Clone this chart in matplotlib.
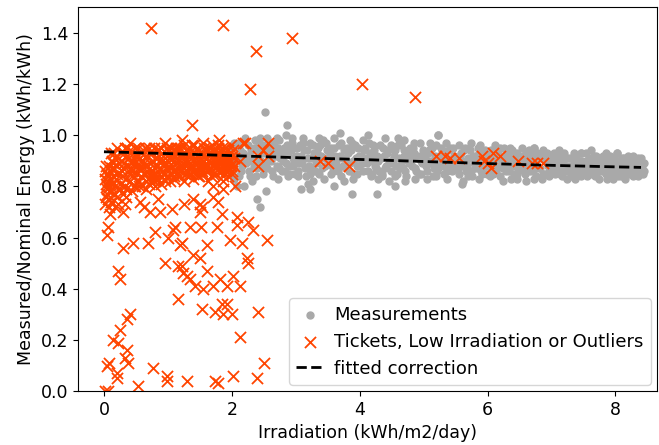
import matplotlib
matplotlib.use("Agg")
import matplotlib.pyplot as plt

# Measurements (daily irradiation vs. measured/nominal energy)
meas_x = [
    1.92, 1.97, 2.03, 2.06, 2.10, 2.14, 2.18, 2.22, 2.25, 2.29,
    2.33, 2.36, 2.40, 2.43, 2.46, 2.49, 2.08, 2.19, 2.31, 2.44,
    2.52, 2.55, 2.58, 2.61, 2.64, 2.67, 2.70, 2.73, 2.76, 2.79,
    2.82, 2.85, 2.88, 2.91, 2.94, 2.97, 2.60, 2.72, 2.84, 2.96,
    3.01, 3.04, 3.07, 3.10, 3.13, 3.16, 3.19, 3.22, 3.25, 3.28,
    3.31, 3.34, 3.37, 3.40, 3.43, 3.46, 3.49, 3.12, 3.27, 3.44,
    3.52, 3.55, 3.58, 3.61, 3.64, 3.67, 3.70, 3.73, 3.76, 3.79,
    3.82, 3.85, 3.88, 3.91, 3.94, 3.97, 3.60, 3.75, 3.89, 3.99,
    4.02, 4.05, 4.08, 4.11, 4.14, 4.17, 4.20, 4.23, 4.26, 4.29,
    4.32, 4.35, 4.38, 4.41, 4.44, 4.47, 4.13, 4.28, 4.40, 4.49,
    4.52, 4.55, 4.58, 4.61, 4.64, 4.67, 4.70, 4.73, 4.76, 4.79,
    4.82, 4.85, 4.88, 4.91, 4.94, 4.97, 4.60, 4.71, 4.86, 4.99,
    5.02, 5.05, 5.08, 5.11, 5.14, 5.17, 5.20, 5.23, 5.26, 5.29,
    5.32, 5.35, 5.38, 5.41, 5.44, 5.47, 5.10, 5.22, 5.36, 5.48,
    5.52, 5.55, 5.58, 5.61, 5.64, 5.67, 5.70, 5.73, 5.76, 5.79,
    5.82, 5.85, 5.88, 5.91, 5.94, 5.97, 5.62, 5.74, 5.86, 5.98,
    6.02, 6.05, 6.08, 6.11, 6.14, 6.17, 6.20, 6.23, 6.26, 6.29,
    6.32, 6.35, 6.38, 6.41, 6.44, 6.47, 6.12, 6.24, 6.36, 6.46,
    6.52, 6.55, 6.58, 6.61, 6.64, 6.67, 6.70, 6.73, 6.76, 6.79,
    6.82, 6.85, 6.88, 6.91, 6.94, 6.97, 6.60, 6.72, 6.86, 6.96,
    7.02, 7.05, 7.08, 7.11, 7.14, 7.17, 7.20, 7.23, 7.26, 7.29,
    7.32, 7.35, 7.38, 7.41, 7.44, 7.47, 7.12, 7.24, 7.36, 7.46,
    7.52, 7.55, 7.58, 7.61, 7.64, 7.67, 7.70, 7.73, 7.76, 7.79,
    7.82, 7.85, 7.88, 7.91, 7.94, 7.97, 7.62, 7.74, 7.86, 7.98,
    8.02, 8.05, 8.08, 8.11, 8.14, 8.17, 8.20, 8.23, 8.26, 8.29,
    8.32, 8.35, 8.38, 8.42, 8.03, 8.15, 8.27, 8.40, 8.44, 8.36,
    2.52, 2.86, 2.39, 2.44, 3.08, 3.19, 3.22, 3.88, 4.27, 4.55,
    5.22, 6.73, 8.03, 2.53, 3.60, 5.60,
    # second pass of days
    2.05, 2.12, 2.16, 2.24, 2.27, 2.35, 2.38, 2.42, 2.47, 2.21,
    2.01, 2.11, 2.26, 2.34, 2.48, 2.15, 2.37, 2.30, 2.45, 2.04,
    2.535, 2.565, 2.595, 2.625, 2.655, 2.685, 2.715, 2.745, 2.775, 2.805,
    2.835, 2.865, 2.895, 2.925, 2.955, 2.985, 2.545, 2.705, 2.875, 2.935,
    3.025, 3.055, 3.085, 3.115, 3.145, 3.175, 3.205, 3.235, 3.265, 3.295,
    3.325, 3.355, 3.385, 3.415, 3.445, 3.475, 3.035, 3.215, 3.365, 3.485,
    3.535, 3.565, 3.595, 3.625, 3.655, 3.685, 3.715, 3.745, 3.775, 3.805,
    3.835, 3.865, 3.895, 3.925, 3.955, 3.985, 3.545, 3.695, 3.845, 3.965,
    4.035, 4.065, 4.095, 4.125, 4.155, 4.185, 4.215, 4.245, 4.275, 4.305,
    4.335, 4.365, 4.395, 4.425, 4.455, 4.485, 4.045, 4.195, 4.345, 4.465,
    4.535, 4.565, 4.595, 4.625, 4.655, 4.685, 4.715, 4.745, 4.775, 4.805,
    4.835, 4.865, 4.895, 4.925, 4.955, 4.985, 4.545, 4.695, 4.845, 4.965,
    5.035, 5.065, 5.095, 5.125, 5.155, 5.185, 5.215, 5.245, 5.275, 5.305,
    5.335, 5.365, 5.395, 5.425, 5.455, 5.485, 5.045, 5.195, 5.345, 5.465,
    5.535, 5.565, 5.595, 5.625, 5.655, 5.685, 5.715, 5.745, 5.775, 5.805,
    5.835, 5.865, 5.895, 5.925, 5.955, 5.985, 5.545, 5.695, 5.845, 5.965,
    6.035, 6.065, 6.095, 6.125, 6.155, 6.185, 6.215, 6.245, 6.275, 6.305,
    6.335, 6.365, 6.395, 6.425, 6.455, 6.485, 6.045, 6.195, 6.345, 6.465,
    6.535, 6.565, 6.595, 6.625, 6.655, 6.685, 6.715, 6.745, 6.775, 6.805,
    6.835, 6.865, 6.895, 6.925, 6.955, 6.985, 6.545, 6.695, 6.845, 6.965,
    7.035, 7.065, 7.095, 7.125, 7.155, 7.185, 7.215, 7.245, 7.275, 7.305,
    7.335, 7.365, 7.395, 7.425, 7.455, 7.485, 7.045, 7.195, 7.345, 7.465,
    7.535, 7.565, 7.595, 7.625, 7.655, 7.685, 7.715, 7.745, 7.775, 7.805,
    7.835, 7.865, 7.895, 7.925, 7.955, 7.985, 7.545, 7.695, 7.845, 7.965,
    8.035, 8.065, 8.095, 8.125, 8.155, 8.185, 8.215, 8.245, 8.275, 8.305,
    8.335, 8.365, 8.395, 8.425, 8.045, 8.195, 8.345, 8.415, 8.445, 8.255,
]
meas_y = [
    0.88, 0.95, 0.83, 0.92, 0.97, 0.86, 0.93, 0.89, 0.96, 0.84,
    0.91, 0.98, 0.87, 0.94, 0.90, 0.85, 0.80, 0.80, 0.82, 0.99,
    0.93, 0.87, 0.96, 0.90, 0.84, 0.94, 0.88, 0.98, 0.91, 0.86,
    0.95, 0.89, 0.93, 0.85, 0.97, 0.90, 0.92, 0.83, 1.00, 0.88,
    0.92, 0.86, 0.96, 0.89, 0.94, 0.84, 0.91, 0.97, 0.87, 0.93,
    0.89, 0.95, 0.85, 0.92, 0.98, 0.88, 0.94, 0.99, 0.82, 0.83,
    0.90, 0.95, 0.86, 0.92, 0.88, 0.96, 0.84, 0.91, 0.94, 0.87,
    0.93, 0.89, 0.97, 0.85, 0.91, 0.95, 0.99, 0.82, 0.83, 0.88,
    0.92, 0.86, 0.95, 0.89, 0.97, 0.84, 0.91, 0.94, 0.87, 0.90,
    0.96, 0.85, 0.92, 0.88, 0.94, 0.90, 1.00, 0.83, 0.99, 0.86,
    0.89, 0.94, 0.85, 0.91, 0.96, 0.87, 0.92, 0.84, 0.90, 0.95,
    0.88, 0.93, 0.86, 0.91, 0.97, 0.89, 0.99, 0.82, 0.83, 0.93,
    0.91, 0.86, 0.94, 0.89, 0.84, 0.92, 0.96, 0.87, 0.90, 0.94,
    0.85, 0.91, 0.88, 0.95, 0.86, 0.92, 0.97, 1.00, 0.83, 0.89,
    0.90, 0.85, 0.93, 0.88, 0.95, 0.86, 0.91, 0.94, 0.84, 0.89,
    0.92, 0.87, 0.96, 0.85, 0.90, 0.93, 0.82, 0.97, 0.83, 0.88,
    0.89, 0.94, 0.85, 0.91, 0.87, 0.93, 0.84, 0.90, 0.95, 0.86,
    0.92, 0.88, 0.94, 0.85, 0.90, 0.87, 0.96, 0.82, 0.83, 0.93,
    0.88, 0.92, 0.85, 0.90, 0.94, 0.86, 0.89, 0.95, 0.84, 0.91,
    0.87, 0.93, 0.85, 0.90, 0.88, 0.92, 0.82, 0.83, 0.94, 0.84,
    0.89, 0.85, 0.92, 0.87, 0.90, 0.84, 0.93, 0.88, 0.86, 0.91,
    0.85, 0.89, 0.92, 0.86, 0.88, 0.90, 0.94, 0.83, 0.83, 0.93,
    0.88, 0.84, 0.91, 0.86, 0.89, 0.92, 0.85, 0.88, 0.90, 0.86,
    0.90, 0.85, 0.88, 0.92, 0.86, 0.89, 0.94, 0.83, 0.83, 0.91,
    0.87, 0.90, 0.84, 0.88, 0.91, 0.86, 0.89, 0.85, 0.88, 0.90,
    0.86, 0.88, 0.85, 0.89, 0.93, 0.83, 0.84, 0.87, 0.86, 0.91,
    1.09, 1.04, 0.75, 0.72, 0.79, 0.81, 0.79, 0.77, 0.77, 0.80,
    1.00, 0.95, 0.93, 0.78, 0.80, 0.81,
    0.90, 0.94, 0.88, 0.92, 0.86, 0.95, 0.90, 0.97, 0.93, 0.99,
    0.86, 0.84, 0.90, 0.88, 0.96, 0.91, 0.84, 0.94, 0.88, 0.97,
    0.89, 0.94, 0.91, 0.86, 0.97, 0.92, 0.95, 0.87, 0.93, 0.90,
    0.86, 0.96, 0.88, 0.94, 0.91, 0.85, 0.99, 0.99, 0.84, 0.99,
    0.95, 0.89, 0.92, 0.97, 0.87, 0.94, 0.88, 0.91, 0.96, 0.86,
    0.93, 0.90, 0.96, 0.87, 0.91, 0.97, 0.84, 0.85, 0.99, 0.91,
    0.93, 0.88, 0.95, 0.90, 0.86, 0.92, 0.97, 0.88, 0.91, 0.95,
    0.86, 0.94, 0.90, 0.96, 0.88, 0.92, 0.85, 1.01, 0.98, 0.85,
    0.89, 0.94, 0.91, 0.86, 0.93, 0.90, 0.96, 0.88, 0.92, 0.86,
    0.91, 0.95, 0.87, 0.93, 0.89, 0.96, 0.98, 0.85, 0.84, 0.82,
    0.92, 0.88, 0.96, 0.87, 0.90, 0.94, 0.86, 0.93, 0.89, 0.91,
    0.95, 0.87, 0.92, 0.85, 0.90, 0.94, 0.84, 0.98, 0.97, 0.85,
    0.88, 0.93, 0.90, 0.95, 0.87, 0.89, 0.86, 0.92, 0.95, 0.88,
    0.92, 0.86, 0.94, 0.89, 0.91, 0.87, 0.83, 0.84, 0.97, 0.95,
    0.87, 0.92, 0.89, 0.94, 0.90, 0.88, 0.95, 0.86, 0.92, 0.87,
    0.90, 0.93, 0.86, 0.91, 0.88, 0.85, 0.96, 0.84, 0.95, 0.94,
    0.92, 0.87, 0.90, 0.86, 0.94, 0.88, 0.91, 0.87, 0.89, 0.93,
    0.86, 0.91, 0.88, 0.92, 0.85, 0.90, 0.84, 0.95, 0.95, 0.83,
    0.90, 0.86, 0.93, 0.87, 0.89, 0.92, 0.86, 0.90, 0.93, 0.87,
    0.91, 0.85, 0.90, 0.93, 0.86, 0.89, 0.95, 0.93, 0.83, 0.91,
    0.87, 0.91, 0.88, 0.85, 0.92, 0.89, 0.86, 0.91, 0.88, 0.84,
    0.91, 0.87, 0.85, 0.90, 0.93, 0.86, 0.93, 0.92, 0.93, 0.84,
    0.90, 0.87, 0.85, 0.90, 0.87, 0.84, 0.90, 0.86, 0.88, 0.92,
    0.86, 0.90, 0.85, 0.88, 0.91, 0.85, 0.93, 0.92, 0.93, 0.83,
    0.89, 0.86, 0.91, 0.85, 0.88, 0.90, 0.86, 0.89, 0.92, 0.85,
    0.90, 0.87, 0.91, 0.85, 0.84, 0.92, 0.84, 0.88, 0.89, 0.86,
]

# Flagged days: tickets, low irradiation or outliers
flag_x = [
    # dense low-irradiation cluster
    0.01, 0.03, 0.05, 0.02, 0.06, 0.04, 0.08, 0.10, 0.07, 0.09,
    0.12, 0.14, 0.11, 0.16, 0.13, 0.19, 0.21, 0.18, 0.23, 0.20,
    0.26, 0.28, 0.25, 0.31, 0.29, 0.33, 0.36, 0.34, 0.38, 0.35,
    0.41, 0.43, 0.40, 0.46, 0.44, 0.48, 0.51, 0.49, 0.53, 0.50,
    0.56, 0.58, 0.55, 0.61, 0.59, 0.63, 0.66, 0.64, 0.68, 0.65,
    0.71, 0.73, 0.70, 0.76, 0.74, 0.78, 0.81, 0.79, 0.83, 0.80,
    0.86, 0.88, 0.85, 0.91, 0.89, 0.93, 0.96, 0.94, 0.98, 0.95,
    1.01, 1.03, 1.00, 1.06, 1.04, 1.08, 1.11, 1.09, 1.13, 1.10,
    1.16, 1.18, 1.15, 1.21, 1.19, 1.23, 1.26, 1.24, 1.28, 1.25,
    1.31, 1.33, 1.30, 1.36, 1.34, 1.38, 1.41, 1.39, 1.43, 1.40,
    1.46, 1.48, 1.45, 1.51, 1.49, 1.53, 1.56, 1.54, 1.58, 1.55,
    1.61, 1.63, 1.60, 1.66, 1.64, 1.68, 1.71, 1.69, 1.73, 1.70,
    1.76, 1.78, 1.75, 1.81, 1.79, 1.83, 1.86, 1.84, 1.88, 1.85,
    1.91, 1.93, 1.90, 1.96, 1.94, 1.98, 2.01, 1.99, 2.03, 2.00,
    0.41, 0.20, 1.22, 1.55, 0.95, 1.80, 0.15,
    0.015, 0.035, 0.055, 0.025, 0.075, 0.045, 0.085, 0.095, 0.065, 0.105,
    0.125, 0.145, 0.115, 0.165, 0.135, 0.185, 0.215, 0.175, 0.225, 0.205,
    0.265, 0.285, 0.255, 0.315, 0.295, 0.335, 0.365, 0.345, 0.385, 0.355,
    0.415, 0.435, 0.405, 0.465, 0.445, 0.485, 0.515, 0.495, 0.535, 0.505,
    0.565, 0.585, 0.555, 0.615, 0.595, 0.635, 0.665, 0.645, 0.685, 0.655,
    0.715, 0.735, 0.705, 0.765, 0.745, 0.785, 0.815, 0.795, 0.835, 0.805,
    0.865, 0.885, 0.855, 0.915, 0.895, 0.935, 0.965, 0.945, 0.985, 0.955,
    1.015, 1.035, 1.005, 1.065, 1.045, 1.085, 1.115, 1.095, 1.135, 1.105,
    1.165, 1.185, 1.155, 1.215, 1.195, 1.235, 1.265, 1.245, 1.285, 1.255,
    1.315, 1.335, 1.305, 1.365, 1.345, 1.385, 1.415, 1.395, 1.435, 1.405,
    1.465, 1.485, 1.455, 1.515, 1.495, 1.535, 1.565, 1.545, 1.585, 1.555,
    1.615, 1.635, 1.605, 1.665, 1.645, 1.685, 1.715, 1.695, 1.735, 1.705,
    1.765, 1.785, 1.755, 1.815, 1.795, 1.835, 1.865, 1.845, 1.885, 1.855,
    1.915, 1.935, 1.905, 1.965, 1.945, 1.985, 2.015, 1.995, 2.035, 2.005,
    # scattered low ratios
    1.16, 0.41, 0.36, 0.25, 0.14, 0.22, 0.36, 0.33, 0.38, 0.05,
    0.20, 0.20, 0.77, 0.98, 0.98, 0.53, 1.30, 0.02, 0.06, 1.53,
    1.73, 1.84, 1.92, 1.86, 2.00, 2.41, 2.13, 2.50, 1.73, 1.78,
    2.02, 2.39, 0.08,
    0.30, 0.06, 0.05, 0.30, 0.45, 0.69, 0.80, 0.72, 0.88, 1.06,
    0.33, 0.56, 0.95, 1.00, 1.08, 1.19, 1.16, 1.30, 0.22, 0.25,
    1.50, 1.50, 1.84, 2.08, 1.77, 2.08, 2.25, 2.33, 1.34, 1.97,
    2.16, 2.55, 1.61, 1.22, 1.39, 1.50, 2.23, 2.25, 1.22, 1.61,
    1.23, 1.34, 1.81, 2.02, 1.42, 1.55, 1.70, 1.92, 2.13, 1.39,
    1.53, 1.70, 1.78, 1.11, 1.52, 0.10, 0.18, 0.62, 0.85, 1.25,
    1.47, 1.63, 1.70, 1.86, 1.86, 2.05,
    # flagged days inside the measurement band
    2.20, 2.41, 2.56, 2.56, 2.41, 2.17, 2.48, 2.13, 3.38, 3.50,
    3.84, 5.20, 5.33, 5.41, 5.56, 5.92, 6.00, 6.08, 6.19, 6.47,
    6.70, 6.78, 6.86, 5.95, 6.05,
    # high outliers
    0.73, 1.86, 2.38, 2.28, 1.37, 2.94, 4.03, 4.86,
]
flag_y = [
    0.86, 0.81, 0.77, 0.73, 0.84, 0.79, 0.88, 0.83, 0.75, 0.80,
    0.90, 0.84, 0.78, 0.87, 0.74, 0.92, 0.85, 0.80, 0.89, 0.76,
    0.93, 0.86, 0.81, 0.89, 0.77, 0.95, 0.88, 0.83, 0.91, 0.79,
    0.94, 0.87, 0.82, 0.90, 0.78, 0.92, 0.85, 0.80, 0.95, 0.88,
    0.91, 0.84, 0.80, 0.94, 0.87, 0.89, 0.82, 0.95, 0.86, 0.79,
    0.93, 0.86, 0.81, 0.90, 0.84, 0.95, 0.88, 0.82, 0.91, 0.80,
    0.94, 0.87, 0.83, 0.90, 0.81, 0.92, 0.85, 0.89, 0.95, 0.82,
    0.91, 0.85, 0.94, 0.88, 0.82, 0.93, 0.86, 0.90, 0.95, 0.83,
    0.93, 0.87, 0.84, 0.91, 0.95, 0.89, 0.85, 0.92, 0.94, 0.82,
    0.90, 0.85, 0.94, 0.88, 0.92, 0.96, 0.86, 0.83, 0.91, 0.93,
    0.92, 0.87, 0.95, 0.89, 0.84, 0.93, 0.90, 0.86, 0.94, 0.88,
    0.91, 0.86, 0.94, 0.89, 0.93, 0.84, 0.92, 0.96, 0.87, 0.90,
    0.93, 0.88, 0.85, 0.91, 0.96, 0.89, 0.94, 0.86, 0.92, 0.90,
    0.92, 0.87, 0.95, 0.90, 0.84, 0.93, 0.89, 0.96, 0.91, 0.86,
    0.97, 0.95, 0.98, 0.97, 0.97, 0.98, 0.93,
    0.83, 0.88, 0.80, 0.76, 0.72, 0.85, 0.78, 0.86, 0.82, 0.74,
    0.87, 0.81, 0.93, 0.77, 0.89, 0.83, 0.79, 0.91, 0.73, 0.88,
    0.90, 0.84, 0.79, 0.93, 0.87, 0.80, 0.92, 0.76, 0.86, 0.95,
    0.89, 0.84, 0.93, 0.80, 0.86, 0.95, 0.82, 0.90, 0.87, 0.92,
    0.87, 0.93, 0.82, 0.90, 0.80, 0.85, 0.92, 0.88, 0.83, 0.95,
    0.89, 0.82, 0.95, 0.86, 0.93, 0.84, 0.91, 0.87, 0.94, 0.83,
    0.90, 0.84, 0.92, 0.86, 0.95, 0.88, 0.93, 0.83, 0.87, 0.91,
    0.88, 0.93, 0.84, 0.91, 0.95, 0.86, 0.92, 0.84, 0.89, 0.94,
    0.90, 0.84, 0.95, 0.88, 0.86, 0.93, 0.91, 0.87, 0.85, 0.96,
    0.87, 0.93, 0.89, 0.85, 0.95, 0.90, 0.93, 0.88, 0.85, 0.96,
    0.89, 0.94, 0.86, 0.93, 0.91, 0.87, 0.95, 0.92, 0.88, 0.85,
    0.88, 0.93, 0.86, 0.95, 0.87, 0.91, 0.88, 0.93, 0.94, 0.85,
    0.90, 0.95, 0.88, 0.86, 0.93, 0.92, 0.87, 0.95, 0.89, 0.84,
    0.89, 0.94, 0.86, 0.93, 0.91, 0.88, 0.94, 0.85, 0.88, 0.92,
    0.36, 0.30, 0.28, 0.24, 0.20, 0.19, 0.16, 0.13, 0.11, 0.10,
    0.07, 0.05, 0.09, 0.06, 0.04, 0.02, 0.04, 0.00, 0.00, 0.32,
    0.31, 0.34, 0.34, 0.30, 0.30, 0.31, 0.21, 0.11, 0.04, 0.03,
    0.06, 0.05, 0.11,
    0.70, 0.64, 0.61, 0.56, 0.58, 0.58, 0.62, 0.70, 0.70, 0.71,
    0.73, 0.74, 0.50, 0.60, 0.63, 0.57, 0.49, 0.45, 0.47, 0.44,
    0.73, 0.70, 0.69, 0.68, 0.64, 0.65, 0.66, 0.63, 0.64, 0.59,
    0.58, 0.59, 0.57, 0.58, 0.53, 0.52, 0.52, 0.50, 0.49, 0.47,
    0.46, 0.44, 0.44, 0.45, 0.41, 0.40, 0.41, 0.41, 0.41, 0.75,
    0.72, 0.76, 0.74, 0.64, 0.64, 0.69, 0.72, 0.72, 0.75, 0.73,
    0.84, 0.82, 0.80, 0.82, 0.79, 0.80,
    0.97, 0.92, 0.97, 0.92, 0.88, 0.97, 0.94, 0.90, 0.90, 0.89,
    0.88, 0.92, 0.92, 0.91, 0.91, 0.92, 0.89, 0.93, 0.92, 0.90,
    0.89, 0.89, 0.89, 0.90, 0.87,
    1.42, 1.43, 1.33, 1.18, 1.04, 1.38, 1.20, 1.15,
]

# Fitted correction curve
fit_x = [0.0, 1.0, 2.0, 3.0, 4.0, 5.0, 6.0, 7.0, 8.0, 8.4]
fit_y = [0.935, 0.928, 0.920, 0.912, 0.905, 0.897, 0.889, 0.882, 0.876, 0.874]

plt.rcParams['font.size'] = 12.5

fig, ax = plt.subplots(figsize=(6.59, 4.45), dpi=100)
fig.subplots_adjust(left=0.118, right=0.997, bottom=0.121, top=0.984)

ax.scatter(meas_x, meas_y, s=25, color='darkgray', label='Measurements')
ax.scatter(flag_x, flag_y, s=64, marker='x', color='orangered', linewidths=1.3,
           label='Tickets, Low Irradiation or Outliers')
ax.plot(fit_x, fit_y, '--', color='black', linewidth=2, label='fitted correction')

ax.set_xlim(-0.41, 8.65)
ax.set_ylim(0, 1.5)
ax.set_xlabel('Irradiation (kWh/m2/day)')
ax.set_ylabel('Measured/Nominal Energy (kWh/kWh)')
ax.legend(loc='lower right', fontsize=13, handlelength=1.5, handletextpad=0.6,
          borderaxespad=0.35)

fig.savefig('out.png', dpi=100)
